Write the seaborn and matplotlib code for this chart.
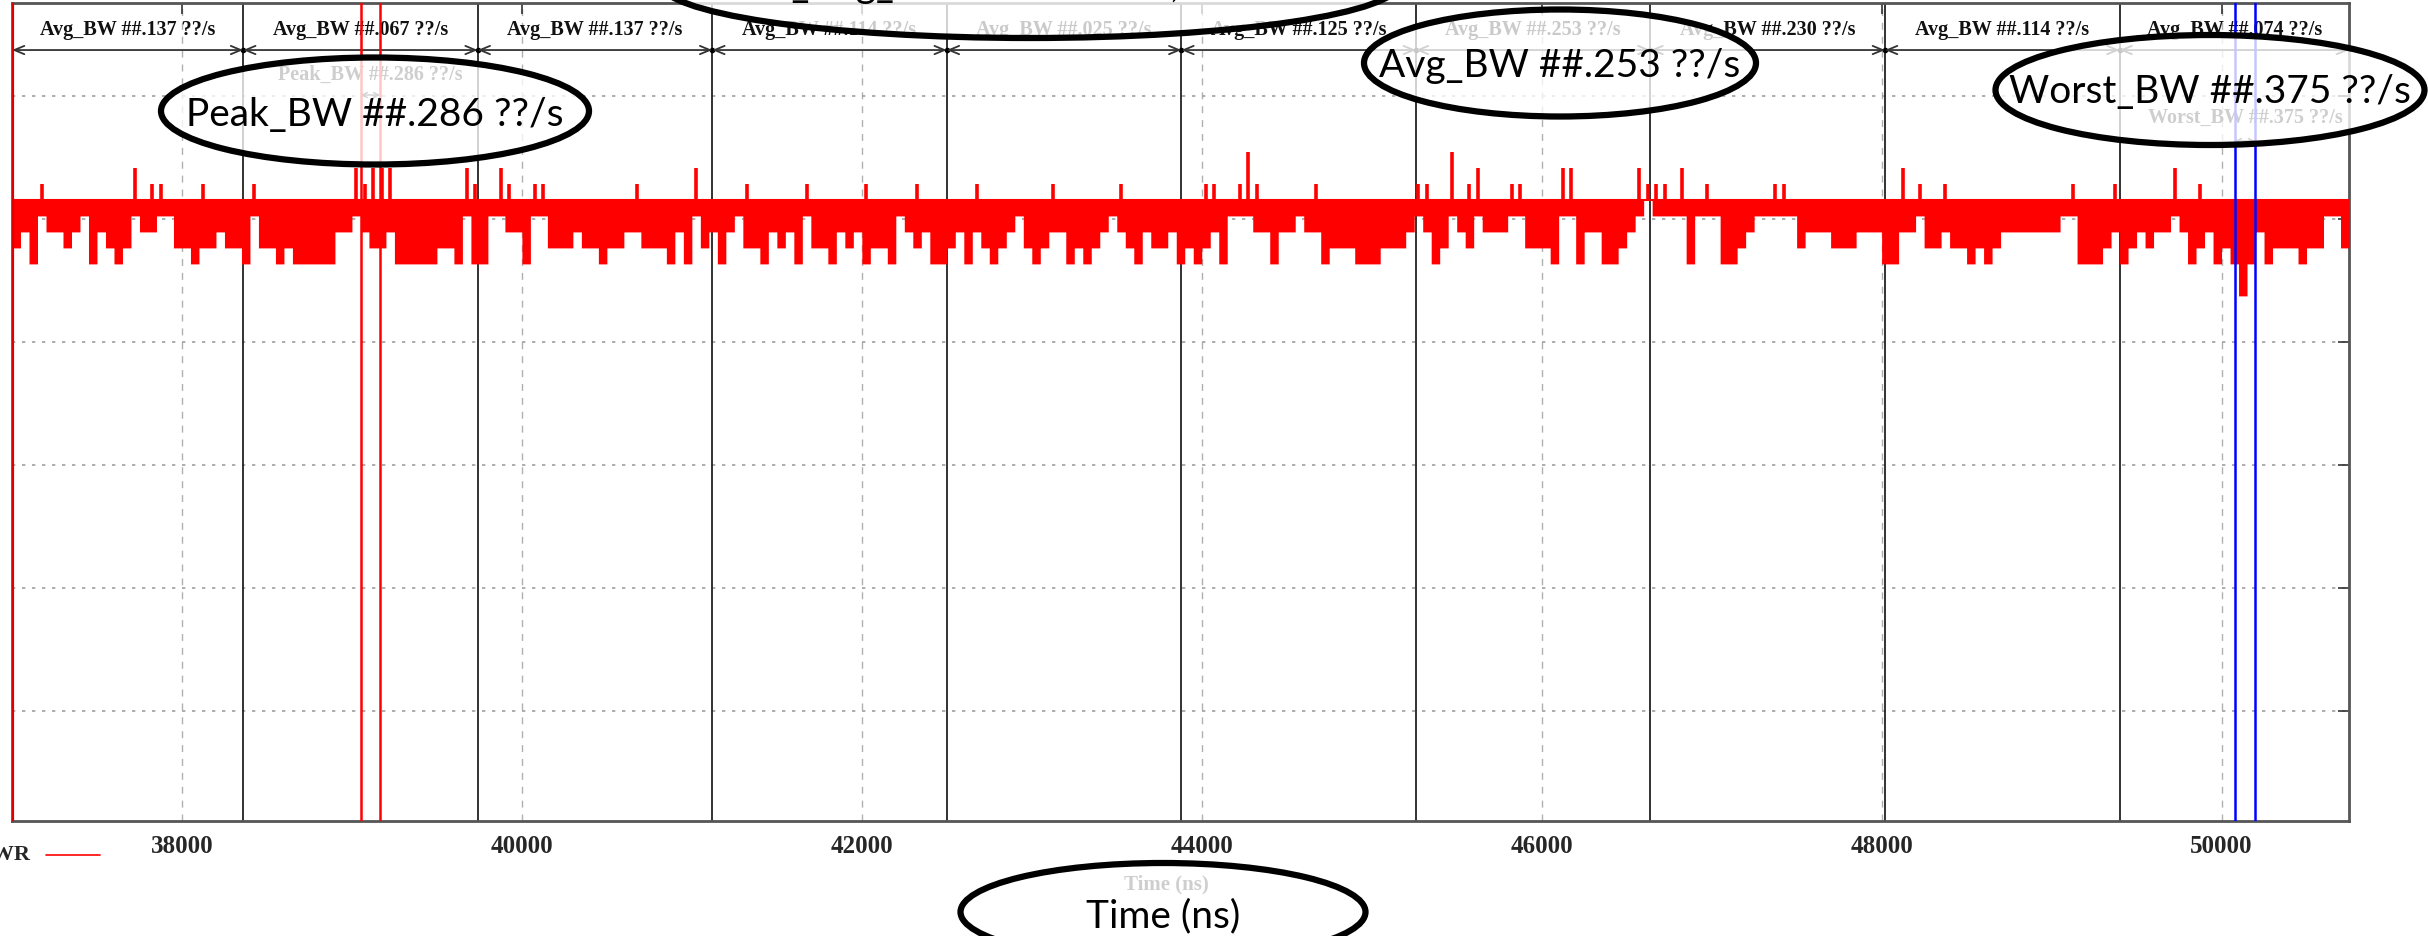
import numpy as np
import pandas as pd
import matplotlib
matplotlib.use("Agg")
import matplotlib.pyplot as plt
from matplotlib.patches import Ellipse
from matplotlib.transforms import blended_transform_factory
import seaborn as sns

t_start = 37000
t_end = 50750
bin_ns = 50

# trace envelope per bin: how many levels above / below the usual level
top_steps = ("0001000000" "0000201100" "0010000010" "0000000000" "2122200000"
             "0002100210" "0110000000" "0001000000" "2"
             "0000010000" "0010000001" "0000010000" "0010000000" "0100000001"
             "000000000"
             "1100131000" "0001000000" "0000011003" "0120001100" "0022000000"
             "0211102001" "0000000110" "0000000000" "00"
             "2010010000" "0000000000" "1000010000" "0020010000" "0000000000"
             "000")
low_steps = ("3241223214" "2343122113" "3433233413" "3434444422" "1233244444"
             "3341441122" "4113332334" "3322333424" "1"
             "3242133423" "2413342324" "3341232443" "2423432134" "3224343212"
             "342332434"
             "3241112242" "2122433344" "4333212431" "2312221133" "3411422443"
             "2101111411" "1443211111" "3222333222" "44"
             "2213323343" "4322222221" "1444324323" "2212432434" "6424333433"
             "113")
level_base = 5.155
level_step = 0.13

# sections between the solid markers
section_edges = [37000, 38360, 39740, 41120, 42500, 43880, 45260, 46640, 48020, 49400, 50750]
section_avg = ["##.137", "##.067", "##.137", "##.114", "##.025",
               "##.125", "##.253", "##.230", "##.114", "##.074"]

peak_window = [39052, 39166]
worst_window = [50079, 50196]
peak_label = "Peak_BW ##.286 ??/s"
worst_label = "Worst_BW ##.375 ??/s"

x_ticks = [38000, 40000, 42000, 44000, 46000, 48000, 50000]
y_ticks = [1, 2, 3, 4, 5, 6]

# callouts pasted over the plot (pixel positions on the 2428x936 canvas)
callouts = [
    ("Total_Avg_BW ##.138 ??/s, ##.### ??", 1030, -17, 740, 110, -3),
    ("Peak_BW ##.286 ??/s", 375, 111, 428, 107, 126),
    ("Avg_BW ##.253 ??/s", 1560, 63, 392, 107, 77),
    ("Worst_BW ##.375 ??/s", 2210, 90, 429, 110, 103),
    ("Time (ns)", 1163, 912, 405, 98, 927),
]

top = np.array([int(c) for c in top_steps])
low = np.array([int(c) for c in low_steps])
edges = t_start + bin_ns * np.arange(len(top) + 1)
mids = edges[:-1] + bin_ns / 2
df = pd.DataFrame({
    "t": edges,
    "hi": level_base + level_step * np.append(top, top[-1]),
    "lo": level_base - level_step * np.append(low, low[-1]),
})
df["edge"] = np.minimum(df["hi"], level_base)

sns.set_theme(style="white")
plt.rcParams["font.family"] = ["Liberation Serif", "DejaVu Serif"]
plt.rcParams["font.weight"] = "bold"

W, H = 2428, 936
fig = plt.figure(figsize=(W / 100, H / 100), dpi=100)
fig.patch.set_facecolor("white")
ax = fig.add_axes([12 / W, (H - 821) / H, (2349 - 12) / W, (821 - 3) / H])
ax.set_facecolor("white")
ax.set_xlim(t_start, t_end)
ax.set_ylim(0.106, 6.756)

ax.set_xticks(x_ticks)
ax.set_yticks(y_ticks)
ax.tick_params(direction="in", top=True, right=True, length=8, width=1.2,
               color="#333333", labelleft=False, labelsize=18, pad=10)
for lab in ax.get_xticklabels():
    lab.set_fontweight("bold")
ax.xaxis.grid(True, ls=(0, (5, 5)), color="#b0b0b0", lw=1)
ax.yaxis.grid(True, ls=(0, (2, 4)), color="#a0a0a0", lw=1.2)
ax.set_axisbelow(True)
for sp in ax.spines.values():
    sp.set_color("#555555")
    sp.set_linewidth(2)

# the trace: filled envelope below the usual level, thin strokes for the spikes up
ax.fill_between(df["t"], df["lo"], df["edge"], step="post", color="red", lw=0, zorder=3)
sns.lineplot(data=df, x="t", y="edge", drawstyle="steps-post", color="red", lw=1.5,
             ax=ax, legend=False, zorder=3)
up = top > 0
ax.vlines(mids[up], level_base, level_base + level_step * top[up],
          color="red", lw=2.6, zorder=3)
ax.axvline(t_start, color="#dd0000", lw=3, zorder=4)

# section markers, labels, arrows
trans = blended_transform_factory(ax.transData, ax.transAxes)
for e in section_edges[1:-1]:
    ax.axvline(e, color="#222222", lw=1.3, zorder=2)
for i, v in enumerate(section_avg):
    a, b = section_edges[i], section_edges[i + 1]
    ax.text((a + b) / 2, 0.967, f"Avg_BW {v} ??/s", transform=trans, ha="center",
            va="center", fontsize=14.5, fontweight="bold", color="#111111")
    ax.annotate("", xy=(b, 0.9425), xytext=(a, 0.9425), xycoords=trans, textcoords=trans,
                arrowprops=dict(arrowstyle="<->,head_length=0.6,head_width=0.25",
                                color="#333333", lw=1.3, shrinkA=0, shrinkB=0))
ax.plot(section_edges[1:-1], [0.9425] * (len(section_edges) - 2), "o", ms=3,
        color="black", transform=trans)

# peak / worst windows
for x in peak_window:
    ax.axvline(x, color="red", lw=1.8, zorder=4)
for x in worst_window:
    ax.axvline(x, color="blue", lw=1.8, zorder=4)
ax.text(np.mean(peak_window), 0.912, peak_label, transform=trans, ha="center",
        va="center", fontsize=14.5, fontweight="bold")
ax.annotate("", xy=(peak_window[1], 0.8875), xytext=(peak_window[0], 0.8875),
            xycoords=trans, textcoords=trans,
            arrowprops=dict(arrowstyle="<->,head_length=0.3,head_width=0.15",
                            color="#333333", lw=1, shrinkA=0, shrinkB=0))
ax.text(np.mean(worst_window), 0.8594, worst_label, transform=trans, ha="center",
        va="center", fontsize=14.5, fontweight="bold")
ax.annotate("", xy=(worst_window[1], 0.8313), xytext=(worst_window[0], 0.8313),
            xycoords=trans, textcoords=trans,
            arrowprops=dict(arrowstyle="<->,head_length=0.3,head_width=0.15",
                            color="#333333", lw=1, shrinkA=0, shrinkB=0))

ax.set_xlabel("Time (ns)", fontsize=15, fontweight="bold")
ax.xaxis.set_label_coords(0.494, -0.0648)
ax.set_ylabel("")

# overlay in canvas pixels for the legend and the pasted callouts
ov = fig.add_axes([0, 0, 1, 1], zorder=10)
ov.set_xlim(0, W)
ov.set_ylim(H, 0)
ov.axis("off")
ov.patch.set_visible(False)

ov.text(31, 855, "DDR_WR", ha="right", va="center", fontsize=16, fontweight="bold")
ov.plot([46, 100], [855, 855], color="red", lw=1.2)

for text, cx, cy, w, h, base in callouts:
    ov.add_patch(Ellipse((cx, cy), w, h, facecolor=(1, 1, 1, 0.78),
                         edgecolor="black", lw=4.5))
    ov.text(cx, base, text, ha="center", va="baseline", fontsize=28,
            family=["Lato", "DejaVu Sans"], fontweight="normal", color="black")

fig.savefig("out.png", dpi=100, facecolor="white")
